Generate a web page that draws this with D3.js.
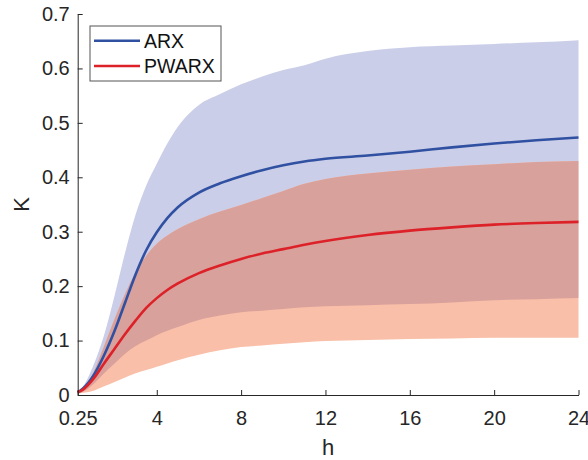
<!DOCTYPE html>
<html>
<head>
<meta charset="utf-8">
<script src="https://cdn.jsdelivr.net/npm/d3@7/dist/d3.min.js"></script>
<style>
html,body{margin:0;padding:0;background:#fff;}
svg{display:block;}
text{font-family:"Liberation Sans",Arial,Helvetica,sans-serif;}
</style>
</head>
<body>
<svg id="chart" width="588" height="460"></svg>
<script>
const hValues = [0.25,0.5,1,1.5,2,2.5,3,3.5,4,4.5,5,6,7,8,9,10,11,12,14,16,18,20,22,24];
const arxMean  = [0.005,0.012,0.036,0.073,0.118,0.170,0.222,0.266,0.299,0.325,0.345,0.372,0.389,0.402,0.413,0.422,0.429,0.434,0.44,0.447,0.455,0.462,0.468,0.473];
const arxUpper = [0.005,0.015,0.055,0.11,0.183,0.262,0.332,0.385,0.425,0.462,0.493,0.533,0.553,0.571,0.585,0.597,0.606,0.618,0.632,0.639,0.642,0.645,0.648,0.652];
const arxLower = [0.003,0.006,0.02,0.04,0.058,0.076,0.09,0.1,0.11,0.118,0.125,0.138,0.146,0.152,0.155,0.158,0.161,0.163,0.165,0.167,0.17,0.174,0.176,0.178];
const pwarxMean  = [0.005,0.01,0.03,0.058,0.085,0.112,0.137,0.16,0.178,0.193,0.205,0.224,0.238,0.25,0.26,0.268,0.276,0.283,0.294,0.302,0.308,0.313,0.316,0.318];
const pwarxUpper = [0.005,0.012,0.042,0.09,0.14,0.186,0.226,0.256,0.278,0.293,0.305,0.323,0.337,0.349,0.362,0.375,0.388,0.397,0.407,0.414,0.42,0.424,0.428,0.43];
const pwarxLower = [0.002,0.004,0.008,0.016,0.024,0.032,0.04,0.046,0.052,0.058,0.064,0.074,0.082,0.088,0.091,0.094,0.097,0.099,0.101,0.103,0.104,0.105,0.105,0.105];
const xTicks = [0.25,4,8,12,16,20,24];
const yTicks = [0,0.1,0.2,0.3,0.4,0.5,0.6,0.7];
const seriesNames = ["ARX","PWARX"];

const svg = d3.select("#chart");
const x = d3.scaleLinear().domain([0.25,24]).range([77.7,578.5]);
const y = d3.scaleLinear().domain([0,0.7]).range([395,14]);
const axisColor = "#262626";

function band(lo, hi){
  return d3.area().x((d,i)=>x(hValues[i])).y0((d,i)=>y(lo[i])).y1((d,i)=>y(hi[i])).curve(d3.curveMonotoneX)(hValues);
}
function line(vals){
  return d3.line().x((d,i)=>x(hValues[i])).y((d,i)=>y(vals[i])).curve(d3.curveMonotoneX)(hValues);
}

svg.append("defs").append("clipPath").attr("id","arxClip")
  .append("path").attr("d", band(arxLower, arxUpper));

svg.append("path").attr("d", band(arxLower, arxUpper)).attr("fill","#cbcee8");
svg.append("path").attr("d", band(pwarxLower, pwarxUpper)).attr("fill","#f9bfa8");
svg.append("path").attr("d", band(pwarxLower, pwarxUpper)).attr("fill","#d9a19c").attr("clip-path","url(#arxClip)");

svg.append("path").attr("d", line(arxMean)).attr("fill","none").attr("stroke","#3050a2").attr("stroke-width",2.6);
svg.append("path").attr("d", line(pwarxMean)).attr("fill","none").attr("stroke","#dd2129").attr("stroke-width",2.6);

// axes
const xAxis = d3.axisBottom(x).tickValues(xTicks).tickFormat(d=>String(d)).tickSizeInner(-5).tickSizeOuter(0).tickPadding(16);
const gx = svg.append("g").attr("transform","translate(0,395)").call(xAxis);
const yAxis = d3.axisLeft(y).tickValues(yTicks).tickFormat(d=>String(+d.toFixed(1))).tickSizeInner(-5).tickSizeOuter(0).tickPadding(8);
const gy = svg.append("g").attr("transform","translate(77.7,0)").call(yAxis);
[gx,gy].forEach(g=>{
  g.selectAll("path.domain").attr("stroke",axisColor).attr("stroke-width",1);
  g.selectAll(".tick line").attr("stroke",axisColor).attr("stroke-width",1);
  g.selectAll(".tick text").attr("fill",axisColor).style("font-size","20px").style("font-family","'Liberation Sans',Arial,sans-serif");
});

svg.append("text").attr("x",328).attr("y",455).attr("text-anchor","middle")
  .attr("fill",axisColor).style("font-size","22px").text("h");
svg.append("text").attr("transform","translate(29,204.5) rotate(-90)").attr("text-anchor","middle")
  .attr("fill",axisColor).style("font-size","22px").text("K");

// legend
const lg = svg.append("g");
lg.append("rect").attr("x",90).attr("y",26).attr("width",131).attr("height",55)
  .attr("fill","#fff").attr("stroke","#555").attr("stroke-width",1);
const legendColors = ["#3050a2","#dd2129"];
const legendY = [40.7, 66];
seriesNames.forEach((n,i)=>{
  lg.append("line").attr("x1",94).attr("x2",140).attr("y1",legendY[i]).attr("y2",legendY[i])
    .attr("stroke",legendColors[i]).attr("stroke-width",2.6);
  lg.append("text").attr("x",144).attr("y",legendY[i]).attr("dy","0.35em")
    .attr("fill","#111").style("font-size","19.5px").text(n);
});
</script>
</body>
</html>
